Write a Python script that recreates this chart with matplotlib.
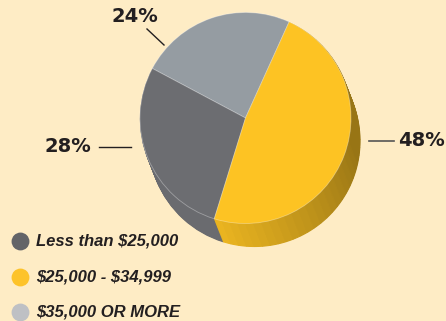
import numpy as np
import matplotlib.pyplot as plt
from matplotlib.colors import to_rgb

plt.rcParams['text.parse_math'] = False

# data (legend order)
labels = ['Less than $25,000', '$25,000 - $34,999', '$35,000 OR MORE']
values = [28, 48, 24]
pct_labels = ['28%', '48%', '24%']
top_colors = ['#6c6d71', '#fdc323', '#959ca2']
legend_colors = ['#636468', '#fdc32a', '#bec0c4']

bg = '#feecc5'
ink = '#231f20'

W, H = 446, 321
fig = plt.figure(figsize=(W / 100, H / 100), dpi=100, facecolor=bg)
ax = fig.add_axes([0, 0, 1, 1])
ax.set_facecolor(bg)

cx, cy, R = 245.5, 321 - 118, 105.5
dx, dy = 9, -23        # offset of the bottom face
start = 65.6

# drawing order around the pie: light gray, dark gray, yellow (counterclockwise)
order = [2, 0, 1]
vals = [values[i] for i in order]
cols = [top_colors[i] for i in order]

# side: dark and light keep one colour, yellow side is split for shading
n_sub = 40
side_vals = vals[:2] + [vals[2] / n_sub] * n_sub
y0 = start + 360 * (vals[0] + vals[1]) / sum(vals)
span = 360 * vals[2] / sum(vals)
side_cols = ['#8e959b', '#6a6b6f']
base = np.array(to_rgb('#fdc323'))
for i in range(n_sub):
    a = y0 + (i + 0.5) * span / n_sub - 360
    t = np.clip((a + 107) / 97.0, 0, 1)
    f = 0.93 - 0.33 * t
    side_cols.append(tuple(base * f))

steps = 24
for k in range(steps, 0, -1):
    c = (cx + dx * k / steps, cy + dy * k / steps)
    wedges, _ = ax.pie(side_vals, colors=side_cols, startangle=start,
                       counterclock=True, center=c, radius=R)
    for w in wedges:
        w.set_edgecolor(w.get_facecolor())
        w.set_linewidth(0.8)

wedges, _ = ax.pie(vals, colors=cols, startangle=start, counterclock=True,
                   center=(cx, cy), radius=R,
                   wedgeprops=dict(edgecolor=(1, 1, 1, 0.35), linewidth=0.6))

# percentage labels with leader lines
ax.text(135, 321 - 16, pct_labels[2], ha='center', va='center',
        fontsize=14, fontweight='bold', color=ink)
ax.plot([147, 164], [321 - 29, 321 - 45], color=ink, lw=1)
ax.text(68, 321 - 147, pct_labels[0], ha='center', va='center',
        fontsize=14, fontweight='bold', color=ink)
ax.plot([99, 131], [321 - 147, 321 - 147], color=ink, lw=1)
ax.text(398, 321 - 140, pct_labels[1], ha='left', va='center',
        fontsize=14, fontweight='bold', color=ink)
ax.plot([369, 394], [321 - 141, 321 - 141], color='#555555', lw=1.2)

# legend
ly = [241, 277, 312]
for lab, col, y in zip(labels, legend_colors, ly):
    ax.scatter([20], [321 - y], s=165, color=col, zorder=5, linewidths=0)
    ax.text(36, 321 - y, lab, ha='left', va='center', fontsize=12,
            fontweight='bold', style='italic', color=ink,
            family=['Liberation Sans', 'DejaVu Sans'])

ax.set_xlim(0, W)
ax.set_ylim(0, H)
ax.set_aspect('auto')
ax.axis('off')
fig.savefig('out.png', dpi=100, facecolor=bg)
